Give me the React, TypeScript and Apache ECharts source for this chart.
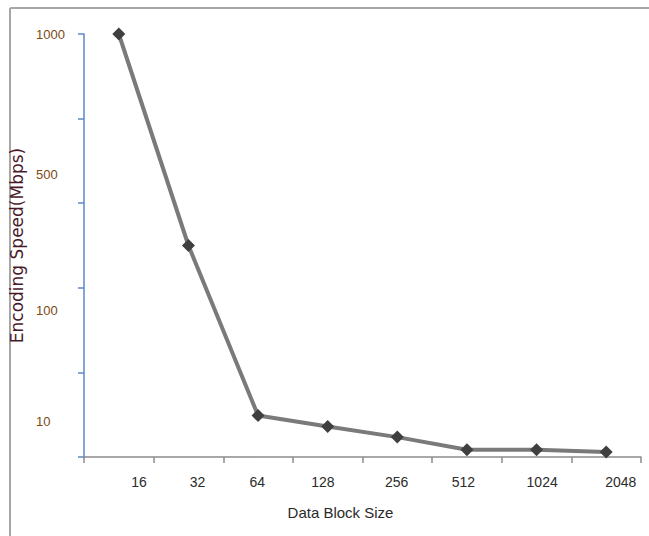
import React, { useEffect, useRef } from "react";
import * as echarts from "echarts";

// Data
const blockSizes = ["16", "32", "64", "128", "256", "512", "1024", "2048"];
const encodingSpeeds = [1000, 500, 98, 72, 47, 17, 17, 12];
// Tick label texts and where they sit on the axes (as printed on the original)
const yTickLabels = ["1000", "500", "100", "10"];
const yLabelPositions = [1000, 667, 347, 85];
const xLabelPositions = [0.79, 1.63, 2.49, 3.43, 4.49, 5.45, 6.58, 7.71];

const FONT = "'Liberation Sans', Arial, sans-serif";

export default function App() {
  const ref = useRef<HTMLDivElement>(null);
  useEffect(() => {
    document.body.style.margin = "0";
    const chart = echarts.init(ref.current!, null, { renderer: "svg" });
    const findLabel = (v: number, positions: number[], labels: string[]) => {
      const i = positions.findIndex((p) => Math.abs(p - v) < 1e-6);
      return i >= 0 ? labels[i] : "";
    };
    chart.setOption({
      animation: false,
      backgroundColor: "#ffffff",
      grid: { left: 83, right: 8, top: 34, bottom: 79, containLabel: false },
      graphic: [
        {
          type: "line",
          shape: { x1: 10, y1: 8, x2: 649, y2: 8 },
          style: { stroke: "#a6a6a6", lineWidth: 2 },
          silent: true,
        },
        {
          type: "line",
          shape: { x1: 10, y1: 8, x2: 10, y2: 536 },
          style: { stroke: "#a6a6a6", lineWidth: 2 },
          silent: true,
        },
      ],
      xAxis: {
        type: "value",
        min: 0,
        max: blockSizes.length,
        interval: 1,
        name: "Data Block Size",
        nameLocation: "middle",
        nameGap: 48,
        nameTextStyle: {
          fontFamily: FONT,
          fontSize: 15,
          color: "#2a2a2a",
          padding: [0, 44, 0, 0],
        },
        axisLine: { show: true, lineStyle: { color: "#8c8c8c", width: 1.5 } },
        axisTick: { show: true, length: 6, lineStyle: { color: "#8c8c8c", width: 1.5 } },
        splitLine: { show: false },
        axisLabel: {
          customValues: xLabelPositions,
          formatter: (v: number) => findLabel(v, xLabelPositions, blockSizes),
          margin: 18,
          fontFamily: FONT,
          fontSize: 14,
          color: "#2b2b2b",
        },
      },
      yAxis: {
        type: "value",
        min: 0,
        max: 1000,
        interval: 200,
        name: "Encoding Speed(Mbps)",
        nameLocation: "middle",
        nameGap: 59,
        nameTextStyle: {
          fontFamily: "'DejaVu Sans', Verdana, sans-serif",
          fontSize: 17,
          color: "#4a1a2a",
        },
        axisLine: { show: true, lineStyle: { color: "#5b87c7", width: 1.5 } },
        axisTick: { show: true, length: 6, lineStyle: { color: "#5b87c7", width: 1.5 } },
        splitLine: { show: false },
        axisLabel: {
          customValues: yLabelPositions,
          formatter: (v: number) => findLabel(v, yLabelPositions, yTickLabels),
          align: "left",
          margin: 48,
          fontFamily: FONT,
          fontSize: 13,
          color: "#7b4a12",
        },
      },
      series: [
        {
          type: "line",
          data: encodingSpeeds.map((s, i) => [i + 0.5, s]),
          symbol: "diamond",
          symbolSize: 13,
          itemStyle: { color: "#3f3f3f" },
          lineStyle: { color: "#7a7a7a", width: 4 },
          z: 3,
        },
      ],
    });
    return () => chart.dispose();
  }, []);
  return (
    <div
      ref={ref}
      style={{ position: "absolute", left: 0, top: 0, width: 649, height: 536 }}
    />
  );
}
